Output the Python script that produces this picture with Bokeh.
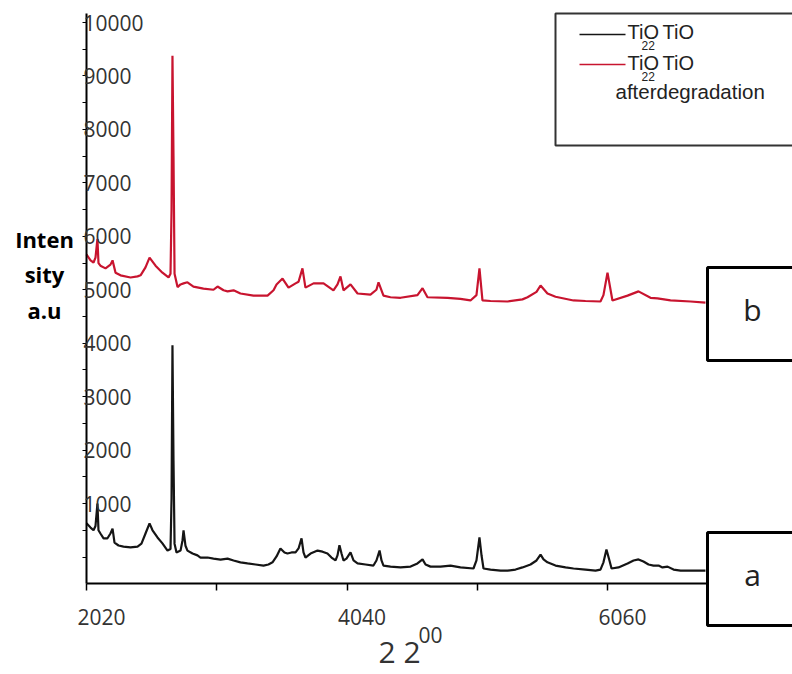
from bokeh.plotting import figure
from bokeh.models import Range1d, FixedTicker, BoxAnnotation, Label, LinearAxis
from bokeh.embed import file_html
from bokeh.resources import INLINE

# ---------------- data ----------------
# (a) TiO2 before degradation
two_theta_a = [20.00, 20.31, 20.54, 20.69, 20.84, 20.92, 21.07, 21.31, 21.61, 21.84, 22.00, 22.15, 22.46, 22.84,
               23.38, 23.92, 24.22, 24.53, 24.84, 25.07, 25.45, 25.83, 26.22, 26.45, 26.53, 26.60, 26.68, 26.76,
               26.91, 27.22, 27.37, 27.45, 27.60, 27.75, 28.14, 28.52, 28.75, 29.29, 29.75, 30.29, 30.83, 31.29,
               31.82, 32.36, 32.98, 33.59, 33.97, 34.28, 34.59, 34.89, 35.20, 35.43, 35.74, 36.05, 36.28, 36.51,
               36.66, 36.81, 37.20, 37.74, 38.12, 38.50, 38.81, 39.12, 39.27, 39.42, 39.58, 39.73, 39.96, 40.27,
               40.50, 40.81, 41.42, 42.03, 42.26, 42.50, 42.65, 42.80, 43.34, 44.11, 44.88, 45.41, 45.80, 46.03,
               46.41, 47.18, 47.95, 48.71, 49.71, 49.94, 50.17, 50.33, 50.48, 51.02, 51.79, 52.32, 52.94, 53.47,
               54.09, 54.55, 54.86, 55.09, 55.39, 56.01, 56.78, 57.39, 58.31, 59.08, 59.46, 59.69, 59.92, 60.15,
               60.31, 60.84, 61.54, 62.00, 62.38, 62.76, 63.15, 63.53, 63.92, 64.22, 64.61, 65.07, 65.61, 66.38,
               67.14, 67.52]
intensity_a = [630, 550, 500, 580, 1000, 500, 440, 350, 350, 440, 530, 270, 215, 195,
               180, 195, 250, 440, 630, 500, 365, 255, 120, 150, 1100, 3960, 1800, 250,
               85, 120, 310, 500, 210, 120, 65, 30, -10, -10, -30, -50, -30, -65,
               -100, -120, -140, -160, -140, -100, 10, 160, 85, 65, 85, 85, 160, 350,
               85, -10, 65, 120, 100, 65, -10, -65, 30, 220, 65, -65, -30, 85,
               -65, -120, -140, -160, -65, 120, -65, -160, -180, -195, -180, -120, -45, -140,
               -180, -180, -160, -195, -215, -65, 365, 28, -215, -235, -255, -255, -235, -195,
               -140, -65, 45, -45, -100, -160, -195, -215, -235, -255, -235, -100, 140, -65,
               -215, -195, -120, -65, -45, -85, -140, -160, -160, -195, -180, -235, -255, -255,
               -255, -255]

# (b) TiO2 after degradation
two_theta_b = [20.00, 20.31, 20.54, 20.69, 20.84, 20.92, 21.07, 21.46, 21.84, 22.00, 22.23, 22.61, 23.38, 23.92,
               24.15, 24.53, 24.84, 25.30, 25.83, 26.30, 26.45, 26.53, 26.60, 26.68, 26.76, 26.99, 27.22, 27.45,
               27.75, 28.21, 28.98, 29.75, 30.06, 30.52, 30.83, 31.29, 31.82, 32.82, 33.90, 34.36, 34.59, 35.05,
               35.51, 36.05, 36.28, 36.58, 36.81, 37.43, 38.20, 38.96, 39.27, 39.50, 39.73, 40.27, 40.81, 41.80,
               42.26, 42.42, 42.80, 43.34, 44.11, 45.41, 45.80, 46.18, 47.72, 48.71, 49.48, 49.94, 50.17, 50.40,
               51.02, 52.32, 53.47, 53.86, 54.55, 54.86, 55.39, 56.01, 57.39, 58.31, 59.46, 59.69, 60.00, 60.38,
               61.54, 62.38, 63.30, 63.84, 64.84, 66.38, 67.52]
intensity_b = [5660, 5550, 5510, 5600, 5950, 5500, 5450, 5400, 5470, 5550, 5320, 5270, 5230, 5250,
               5270, 5420, 5600, 5450, 5320, 5230, 5300, 6500, 9380, 7500, 5300, 5050, 5100, 5120,
               5140, 5060, 5020, 5000, 5060, 4990, 4970, 4990, 4930, 4890, 4890, 4990, 5100, 5210,
               5040, 5120, 5150, 5400, 5040, 5120, 5120, 4990, 5100, 5250, 4990, 5100, 4930, 4910,
               5000, 5140, 4890, 4860, 4850, 4900, 5030, 4860, 4850, 4830, 4800, 4900, 5400, 4800,
               4790, 4780, 4820, 4860, 4960, 5080, 4930, 4870, 4800, 4790, 4780, 4900, 5320, 4800,
               4890, 4970, 4850, 4840, 4800, 4780, 4760]

y_tick_values = [1000, 2000, 3000, 4000, 5000, 6000, 7000, 8000, 9000, 10000]
y_tick_labels = ["1000", "2000", "3000", "4000", "5000", "6000", "7000", "8000", "9000", "10000"]
y_minor_values = [0, 500, 1500, 2500, 3500, 4500, 5500, 6500, 7500, 8500, 9500]
x_tick_values = [20, 30, 40, 50, 60]
x_label_values = [20, 40, 60]
x_tick_labels = ["2020", "4040", "6060"]
y_title_lines = ["Inten", "sity", "a.u"]
x_title = "2 2"
x_title_sup = "00"
legend_line1 = "TiO"
legend_line2 = "afterdegradation"
panel_labels = ["b", "a"]

# ---------------- geometry (picture pixels -> data) ----------------
X0_PX, PX_PER_DEG = 86.0, 13.025
Y0_PX, UNITS_PER_PX = 556.5, 18.71
W, H = 792, 674


def dx(px):
    return 20 + (px - X0_PX) / PX_PER_DEG


def dy(py):
    return (Y0_PX - py) * UNITS_PER_PX


p = figure(width=W, height=H, output_backend="svg", toolbar_location=None,
           x_range=Range1d(dx(0), dx(W)), y_range=Range1d(dy(H), dy(0)),
           x_axis_location=None, y_axis_location=None,
           min_border_left=0, min_border_right=0, min_border_top=0, min_border_bottom=0)
p.title.visible = False
p.outline_line_color = None
p.background_fill_color = "white"
p.border_fill_color = "white"
p.grid.visible = False

# ---------------- axes (fixed inside the canvas) ----------------
label_shift = 15 / PX_PER_DEG          # tick labels sit ~15 px right of their ticks
xaxis = LinearAxis(fixed_location=dy(583), bounds=(20, dx(W)),
                   ticker=FixedTicker(ticks=[v + label_shift for v in x_label_values],
                                      minor_ticks=x_tick_values),
                   major_label_overrides={v + label_shift: t for v, t in zip(x_label_values, x_tick_labels)},
                   axis_line_color="black", axis_line_width=2,
                   major_tick_line_color=None, major_tick_in=0, major_tick_out=0,
                   minor_tick_line_color="black", minor_tick_line_width=1.5, minor_tick_in=0, minor_tick_out=7,
                   major_label_standoff=18,
                   major_label_text_font="Open Sans", major_label_text_font_size="21px",
                   major_label_text_color="#333333")
p.add_layout(xaxis, "below")

yaxis = LinearAxis(fixed_location=20, bounds=(dy(583), dy(13)),
                   ticker=FixedTicker(ticks=y_tick_values, minor_ticks=y_minor_values),
                   major_label_overrides={v: t for v, t in zip(y_tick_values, y_tick_labels)},
                   axis_line_color="black", axis_line_width=2,
                   major_tick_line_color="black", major_tick_in=4, major_tick_out=0,
                   minor_tick_line_color="black", minor_tick_in=4, minor_tick_out=0,
                   major_label_standoff=-3,
                   major_label_text_font="Open Sans", major_label_text_font_size="21px",
                   major_label_text_color="#333333")
p.add_layout(yaxis, "right")

# ---------------- data lines ----------------
p.line(two_theta_a, intensity_a, line_color="#151515", line_width=2.2)
p.line(two_theta_b, intensity_b, line_color="#c8142f", line_width=2.2)

# ---------------- titles ----------------
p.add_layout(Label(x=dx(399), y=dy(651), text=x_title, text_align="center", text_baseline="alphabetic",
                   text_font="Open Sans", text_font_size="30px", text_color="#333333"))
p.add_layout(Label(x=dx(418), y=dy(634), text=x_title_sup, text_align="left", text_baseline="alphabetic",
                   text_font="Open Sans", text_font_size="21px", text_color="#333333"))
for i, line in enumerate(y_title_lines):
    p.add_layout(Label(x=dx(44), y=dy(238 + 35.5 * i), text=line, text_align="center",
                       text_baseline="alphabetic", text_font="Open Sans", text_font_style="bold",
                       text_font_size="22px", text_color="black"))

# ---------------- legend ----------------
p.add_layout(BoxAnnotation(left=dx(555), right=dx(830), top=dy(13), bottom=dy(145),
                           fill_color="white", fill_alpha=1, line_color="#333333", line_alpha=1,
                           line_width=2, level="underlay"))
p.segment(x0=[dx(579), dx(579)], x1=[dx(625), dx(625)], y0=[dy(34), dy(64)], y1=[dy(34), dy(64)],
          line_color=["#151515", "#c8142f"], line_width=1.5)
for row_y in (31, 62):
    p.add_layout(Label(x=dx(627), y=dy(row_y), text=legend_line1, text_baseline="alphabetic",
                       text_font="Liberation Sans", text_font_size="20px", text_color="#222222"))
    p.add_layout(Label(x=dx(662), y=dy(row_y), text=legend_line1, text_baseline="alphabetic",
                       text_font="Liberation Sans", text_font_size="20px", text_color="#222222"))
    p.add_layout(Label(x=dx(641), y=dy(row_y + 14), text="22", text_baseline="alphabetic",
                       text_font="Liberation Sans", text_font_size="12px", text_color="#222222"))
p.add_layout(Label(x=dx(615), y=dy(91), text=legend_line2, text_baseline="alphabetic",
                   text_font="Liberation Sans", text_font_size="20.5px", text_color="#222222"))

# ---------------- panel boxes b and a ----------------
for (top_px, bot_px), lab in zip(((267, 360), (532, 625)), panel_labels):
    p.add_layout(BoxAnnotation(left=dx(707), right=dx(830), top=dy(top_px), bottom=dy(bot_px),
                               fill_color="white", fill_alpha=1, line_color="black", line_alpha=1,
                               line_width=3, level="overlay"))
    p.add_layout(Label(x=dx(752), y=dy((top_px + bot_px) / 2 - 5), text=lab, text_align="center",
                       text_baseline="middle", text_font="Open Sans", text_font_size="30px",
                       text_color="#222222", level="overlay"))

open("out.html", "w").write(file_html(p, INLINE))
